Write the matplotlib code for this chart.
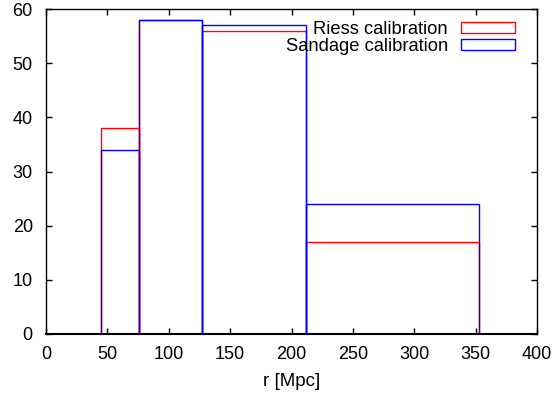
import matplotlib
matplotlib.use("Agg")
import matplotlib.pyplot as plt
import matplotlib.patches as patches
import numpy as np

# bin edges [Mpc] and counts per bin
bin_edges = [45, 76, 127, 212, 353]
riess_counts = [38, 58, 56, 17]
sandage_counts = [34, 58, 57, 24]

plt.rcParams['font.family'] = ['Liberation Sans', 'DejaVu Sans']

fig = plt.figure(figsize=(5.56, 3.96), dpi=100)
ax = fig.add_axes([46 / 556, 1 - 334 / 396, 491 / 556, 325 / 396])

left = np.array(bin_edges[:-1])
widths = np.diff(bin_edges)

ax.bar(left, riess_counts, width=widths, align='edge', fill=False,
       edgecolor='#ff0000', linewidth=1.0)
ax.bar(left, sandage_counts, width=widths, align='edge', fill=False,
       edgecolor='#0000ff', linewidth=1.0)

ax.set_xlim(0, 400)
ax.set_ylim(0, 60)
ax.set_xticks(np.arange(0, 401, 50))
ax.set_yticks(np.arange(0, 61, 10))
ax.tick_params(direction='in', top=True, right=True, length=4.5, width=1,
               labelsize=13)
ax.tick_params(axis='x', pad=8.5)
ax.tick_params(axis='y', pad=9.5)
for s in ax.spines.values():
    s.set_linewidth(1.0)
    s.set_zorder(3)
ax.spines['bottom'].set_linewidth(1.5)
ax.set_xlabel('r [Mpc]', labelpad=7, fontsize=13.5)

handles = [patches.Rectangle((0, 0), 1, 1, fill=False, edgecolor='#ff0000', linewidth=1.0),
           patches.Rectangle((0, 0), 1, 1, fill=False, edgecolor='#0000ff', linewidth=1.0)]
ax.legend(handles, ['Riess calibration', 'Sandage calibration'],
          loc='upper right', bbox_to_anchor=(515 / 556, 1 - 21 / 396),
          bbox_transform=fig.transFigure, frameon=False,
          markerfirst=False, handlelength=2.95, handleheight=0.55,
          handletextpad=0.7, labelspacing=0.0, borderpad=0, borderaxespad=0,
          fontsize=13.2)

fig.savefig('out.png', dpi=100)
